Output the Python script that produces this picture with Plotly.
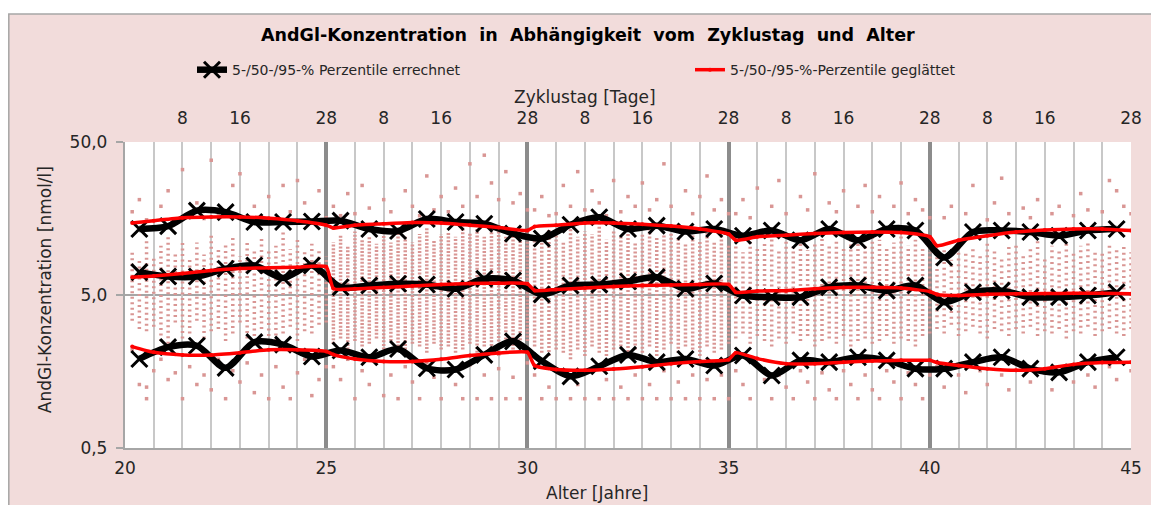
import plotly.graph_objects as go

# ---------------- data ----------------
BLOCK_STARTS = [20, 25, 30, 35, 40]          # age (years) at start of each 28-day block
CYCLE_DAYS = 28
BLACK_DAYS = [2, 6, 10, 14, 18, 22, 26]      # cycle days of the computed percentiles
RED_DAYS = [1, 4, 8, 12, 16, 20, 24, 28]     # cycle days of the smoothed percentiles

# computed percentiles (black), 7 per block
p95_calc = [13.5, 14.1, 17.8, 17.4, 15.0, 15.0, 15.1,
            15.3, 13.5, 13.1, 15.7, 15.0, 14.6, 12.6,
            11.7, 14.4, 16.1, 13.5, 14.2, 13.0, 13.5,
            12.2, 13.2, 11.4, 13.5, 11.4, 13.5, 13.2,
            8.8, 12.9, 13.2, 12.9, 12.2, 13.2, 13.5]
p50_calc = [7.05, 6.6, 6.6, 7.42, 7.79, 6.46, 7.79,
            5.62, 5.77, 5.92, 5.86, 5.49, 6.38, 6.22,
            5.05, 5.77, 5.85, 6.13, 6.54, 5.49, 5.95,
            4.96, 4.84, 4.84, 5.62, 5.77, 5.34, 5.77,
            4.49, 5.21, 5.34, 4.84, 4.84, 4.96, 5.21]
p05_calc = [1.91, 2.28, 2.33, 1.67, 2.46, 2.37, 1.98,
            2.17, 1.96, 2.22, 1.66, 1.63, 2.03, 2.49,
            1.85, 1.47, 1.71, 2.03, 1.82, 1.91, 1.73,
            2.01, 1.49, 1.87, 1.82, 1.96, 1.87, 1.65,
            1.65, 1.82, 1.96, 1.65, 1.56, 1.82, 1.96]

# smoothed percentiles (red), 8 per block
p95_smooth = [14.8, 15.3, 16.0, 16.2, 16.2, 15.9, 15.3, 14.3,
              13.7, 14.3, 14.6, 14.9, 14.8, 14.3, 13.8, 13.2,
              14.0, 14.3, 14.8, 14.8, 14.5, 14.1, 13.5, 12.5,
              11.4, 12.0, 12.3, 12.6, 12.8, 12.9, 12.8, 12.0,
              10.5, 11.4, 12.2, 12.9, 13.3, 13.5, 13.5, 13.2]
p50_smooth = [6.54, 6.66, 6.91, 7.23, 7.45, 7.53, 7.60, 7.65,
              5.51, 5.49, 5.60, 5.73, 5.86, 5.95, 5.97, 5.92,
              5.35, 5.44, 5.55, 5.68, 5.77, 5.81, 5.86, 5.86,
              5.21, 5.31, 5.34, 5.49, 5.60, 5.62, 5.55, 5.27,
              5.04, 4.96, 5.05, 5.09, 5.11, 5.13, 5.13, 5.09]
p05_smooth = [2.30, 2.11, 2.03, 2.03, 2.10, 2.19, 2.19, 2.14,
              2.04, 1.91, 1.84, 1.84, 1.90, 2.01, 2.09, 2.11,
              1.73, 1.63, 1.61, 1.64, 1.70, 1.78, 1.84, 1.89,
              2.10, 1.92, 1.78, 1.78, 1.82, 1.85, 1.87, 1.87,
              1.81, 1.73, 1.65, 1.61, 1.65, 1.76, 1.81, 1.82]

# individual measurements: dense core range per cycle day (days 1..28) and single outliers
hi_20 = [9.8, 8.4, 11.4, 9.0, 10.5, 12.0, 9.5, 11.4, 8.8, 11.0, 9.2, 12.5, 10.0, 10.8,
         12.0, 9.0, 11.0, 9.8, 12.2, 10.0, 10.5, 12.8, 10.0, 11.5, 9.5, 10.8, 9.8, 9.0]
lo_20 = [3.4, 3.0, 2.9, 3.1, 2.5, 2.4, 3.3, 2.6, 2.8, 3.4, 2.6, 2.9, 3.0, 2.5,
         2.8, 3.3, 2.6, 2.7, 3.0, 2.7, 2.5, 2.8, 3.1, 2.5, 2.9, 2.8, 3.2, 3.3]
hi_25 = [11.0, 12.5, 10.5, 13.0, 11.5, 12.0, 10.8, 12.8, 11.0, 13.5, 12.0, 11.0, 12.5, 13.8,
         11.5, 12.5, 13.0, 12.0, 14.0, 12.8, 13.5, 12.0, 14.5, 13.0, 12.0, 13.5, 11.5, 12.5]
lo_25 = [2.4, 2.6, 2.2, 2.5, 2.3, 2.4, 2.6, 2.2, 2.5, 2.3, 2.2, 2.4, 2.3, 2.1,
         2.4, 2.2, 2.3, 2.1, 2.2, 2.4, 2.1, 2.3, 2.2, 2.0, 2.3, 2.2, 2.4, 2.5]
hi_30 = [12.0, 11.0, 13.5, 12.5, 11.0, 14.0, 12.0, 13.0, 12.5, 14.5, 11.5, 13.0, 12.0, 13.5,
         11.0, 12.5, 13.5, 11.8, 12.5, 13.0, 12.0, 11.0, 12.5, 11.5, 13.0, 11.0, 12.0, 10.5]
lo_30 = [2.3, 2.1, 2.0, 2.2, 2.1, 1.9, 2.2, 2.0, 2.3, 2.1, 2.0, 2.2, 2.3, 2.0,
         2.2, 2.1, 2.3, 2.0, 2.2, 2.4, 2.1, 2.3, 2.2, 2.0, 2.3, 2.1, 2.2, 2.4]
hi_35 = [10.5, 9.5, 12.0, 10.0, 11.0, 12.5, 10.0, 11.5, 10.5, 12.0, 9.8, 11.0, 12.5, 10.5,
         11.5, 10.0, 12.0, 11.0, 10.5, 12.0, 11.5, 10.0, 11.0, 12.5, 10.5, 11.5, 10.0, 9.5]
lo_35 = [2.6, 2.8, 2.4, 2.7, 2.5, 2.3, 2.6, 2.4, 2.8, 2.5, 2.7, 2.3, 2.5, 2.6,
         2.4, 2.7, 2.3, 2.5, 2.6, 2.4, 2.5, 2.7, 2.4, 2.6, 2.5, 2.3, 2.7, 2.8]
hi_40 = [9.0, 10.0, 8.5, 11.0, 9.5, 10.5, 9.0, 11.5, 10.0, 9.0, 10.5, 11.0, 9.5, 10.0,
         11.5, 9.0, 10.5, 10.0, 11.0, 9.5, 10.5, 11.5, 10.0, 9.5, 11.0, 10.0, 10.5, 9.5]
lo_40 = [3.0, 2.8, 3.2, 2.7, 2.9, 3.1, 2.8, 2.6, 3.0, 2.9, 2.7, 3.0, 2.8, 3.1,
         2.7, 2.9, 2.8, 3.0, 2.6, 2.9, 2.8, 3.1, 2.7, 2.9, 3.0, 2.8, 2.7, 3.0]

out_20 = [(1, 17.5), (2, 21), (3, 15.5), (5, 19), (6, 24), (8, 33), (10, 20), (11, 15.8), (12, 38),
          (13, 17), (15, 26), (16, 31), (18, 19), (19, 16), (20, 22), (22, 26), (23, 17.5), (24, 28),
          (25, 20), (27, 24), (28, 16),
          (1, 2.2), (2, 1.3), (3, 1.25), (3, 1.05), (4, 1.6), (5, 1.9), (6, 1.4), (7, 1.55), (8, 1.05),
          (9, 1.7), (10, 1.3), (11, 1.5), (12, 1.2), (13, 1.9), (14, 1.05), (15, 1.6), (16, 1.35),
          (17, 1.8), (18, 1.15), (19, 1.5), (20, 1.05), (21, 1.7), (22, 1.25), (23, 1.05), (24, 1.55),
          (25, 1.9), (26, 1.1), (27, 1.4), (28, 1.7)]
out_25 = [(1, 19), (2, 16.5), (3, 23), (4, 17), (5, 26), (6, 18.5), (8, 21), (9, 17.5), (11, 24),
          (12, 19), (14, 30), (15, 18), (16, 22), (18, 25), (19, 19), (20, 36), (21, 22), (22, 41),
          (23, 27), (24, 21), (25, 32), (26, 20), (27, 23), (28, 18), (17, 17.5), (13, 16.5),
          (1, 1.7), (2, 1.4), (3, 1.9), (4, 1.05), (5, 1.6), (6, 1.3), (7, 1.8), (8, 1.1), (9, 1.5),
          (10, 1.05), (11, 1.7), (12, 1.35), (13, 1.05), (14, 1.8), (15, 1.45), (16, 1.05), (17, 1.6),
          (18, 1.3), (19, 1.05), (20, 1.75), (21, 1.05), (22, 1.5), (23, 1.05), (24, 1.65), (25, 1.05),
          (26, 1.45), (27, 1.05), (28, 1.8)]
out_30 = [(1, 18), (2, 22), (4, 17), (5, 26), (6, 19), (7, 32), (8, 18), (9, 24), (10, 20), (12, 28),
          (13, 17.5), (14, 22), (15, 19), (16, 27), (17, 18), (18, 21), (19, 36), (20, 19), (22, 24),
          (23, 17), (24, 22), (25, 30), (26, 18), (27, 21), (28, 17), (3, 16.5), (11, 16.5),
          (1, 1.5), (2, 1.05), (3, 1.25), (4, 1.05), (5, 1.55), (6, 1.05), (7, 1.3), (8, 1.05), (9, 1.6),
          (10, 1.05), (11, 1.4), (12, 1.05), (13, 1.25), (14, 1.05), (15, 1.5), (16, 1.05), (17, 1.3),
          (18, 1.05), (19, 1.6), (20, 1.05), (21, 1.35), (22, 1.05), (23, 1.5), (24, 1.05), (25, 1.4),
          (26, 1.05), (27, 1.5), (28, 1.05)]
out_35 = [(1, 17), (2, 21), (3, 16), (4, 25), (6, 19), (7, 28), (8, 17), (10, 22), (11, 18), (12, 31),
          (14, 20), (15, 17.5), (16, 24), (18, 19), (19, 26), (20, 17.5), (21, 22), (23, 19), (24, 27),
          (25, 17), (26, 21), (27, 18), (28, 16),
          (1, 1.6), (2, 1.3), (3, 1.05), (4, 1.7), (5, 1.4), (6, 1.05), (7, 1.5), (8, 1.25), (9, 1.05),
          (10, 1.6), (11, 1.35), (12, 1.05), (13, 1.55), (14, 1.2), (15, 1.05), (16, 1.6), (17, 1.3),
          (18, 1.05), (19, 1.5), (20, 1.2), (21, 1.05), (22, 1.6), (23, 1.35), (24, 1.05), (25, 1.55),
          (26, 1.3), (27, 1.05), (28, 1.5)]
out_40 = [(2, 16), (3, 19), (5, 17), (6, 26), (8, 15.5), (9, 20), (10, 29), (11, 17), (13, 18.5),
          (14, 16), (15, 21), (17, 17), (18, 19), (20, 16.5), (21, 23), (22, 18), (24, 17.5), (25, 28),
          (26, 24), (27, 19), (28, 17),
          (1, 1.7), (2, 1.25), (4, 1.5), (5, 1.15), (7, 1.6), (8, 1.3), (10, 1.5), (11, 1.2), (13, 1.7),
          (14, 1.35), (16, 1.55), (17, 1.2), (19, 1.6), (20, 1.35), (22, 1.5), (23, 1.25), (25, 1.7),
          (26, 1.4), (28, 1.6)]

top_tick_days = [8, 16, 28]
y_tickvals = [0.5, 5, 50]
y_ticktext = ["0,5\u00a0", "5,0\u00a0", "50,0\u00a0"]
x_tickvals = [20, 25, 30, 35, 40, 45]

# ---------------- helpers ----------------
def age(block_start, day):
    return block_start + 5.0 * day / CYCLE_DAYS

black_x = [age(b, d) for b in BLOCK_STARTS for d in BLACK_DAYS]
red_x = [age(b, d) for b in BLOCK_STARTS for d in RED_DAYS]

PINK = "#D99694"
BG = "#F2DCDB"
TXT = "#262626"
FONT = "DejaVu Sans, Arial, sans-serif"

fig = go.Figure()

# dense dot columns (the density of dots differs between the age blocks)
block_dash = ["2px,3.5px", "2px,1.6px", "2px,2px", "2px,3px", "2px,3.8px"]
for b, hi, lo, dash in zip(BLOCK_STARTS, [hi_20, hi_25, hi_30, hi_35, hi_40],
                           [lo_20, lo_25, lo_30, lo_35, lo_40], block_dash):
    core_x, core_y = [], []
    for d, (h, l) in enumerate(zip(hi, lo), start=1):
        core_x += [age(b, d), age(b, d), None]
        core_y += [l, h, None]
    fig.add_trace(go.Scatter(x=core_x, y=core_y, mode="lines", showlegend=False, hoverinfo="skip",
                             line=dict(color=PINK, width=3.5, dash=dash)))

ox, oy = [], []
for b, outs in zip(BLOCK_STARTS, [out_20, out_25, out_30, out_35, out_40]):
    for d, v in outs:
        ox.append(age(b, d))
        oy.append(v)
fig.add_trace(go.Scatter(x=ox, y=oy, mode="markers", showlegend=False, hoverinfo="skip",
                         marker=dict(symbol="square", size=3.5, color=PINK, line=dict(width=0))))

# computed percentiles (black)
for i, series in enumerate([p95_calc, p50_calc, p05_calc]):
    fig.add_trace(go.Scatter(
        x=black_x, y=series, mode="lines+markers", legend="legend",
        name="5-/50-/95-% Perzentile errechnet", legendgroup="calc", showlegend=(i == 0),
        line=dict(color="black", width=6.5, shape="spline", smoothing=0.8),
        marker=dict(symbol="x-thin", size=16, color="black", line=dict(color="black", width=3))))

# smoothed percentiles (red)
for i, series in enumerate([p95_smooth, p50_smooth, p05_smooth]):
    fig.add_trace(go.Scatter(
        x=red_x, y=series, mode="lines+markers", legend="legend2",
        name="5-/50-/95-%-Perzentile geglättet", legendgroup="smooth", showlegend=(i == 0),
        line=dict(color="#FF0000", width=3.5, shape="spline", smoothing=0.5),
        marker=dict(symbol="circle", size=4, color="#FF0000")))

# empty traces to attach the helper axes
for ax in ["x2", "x3", "x4"]:
    fig.add_trace(go.Scatter(x=[], y=[], xaxis=ax, showlegend=False, hoverinfo="skip"))

top_vals = [28 * k + d for k in range(5) for d in top_tick_days]
top_text = [str(d) for k in range(5) for d in top_tick_days]
light_grid = [d for d in range(4, 5 * CYCLE_DAYS, 4) if d % CYCLE_DAYS != 0]

legend_common = dict(orientation="h", xanchor="left", y=1.235, yanchor="middle",
                     bgcolor="rgba(0,0,0,0)", font=dict(size=14, color=TXT, family=FONT))

fig.update_layout(
    width=1159, height=505,
    margin=dict(l=117, r=36, t=134, b=65, autoexpand=False),
    paper_bgcolor=BG, plot_bgcolor="white",
    font=dict(family=FONT, size=17, color=TXT),
    showlegend=True,
    legend=dict(x=0.0666, **legend_common),
    legend2=dict(x=0.5616, **legend_common),
    xaxis=dict(range=[20, 45], tickvals=x_tickvals, showgrid=False, zeroline=False,
               showline=True, linecolor="#A6A6A6", linewidth=1.5,
               ticks="outside", ticklen=4, tickcolor="rgba(0,0,0,0)",
               tickfont=dict(size=17, color=TXT)),
    xaxis2=dict(overlaying="x", side="top", anchor="y", range=[0, 140], tickvals=top_vals,
                ticktext=top_text, showgrid=False, zeroline=False, showline=False,
                ticks="outside", ticklen=10, tickcolor="rgba(0,0,0,0)",
                tickfont=dict(size=17, color=TXT)),
    xaxis3=dict(overlaying="x", anchor="y", range=[0, 140], tickvals=light_grid,
                showticklabels=False, showgrid=True, gridcolor="#C8C8C8", gridwidth=1.5,
                zeroline=False, showline=False, ticks=""),
    xaxis4=dict(overlaying="x", anchor="y", range=[20, 45], tickvals=[25, 30, 35, 40, 45],
                showticklabels=False, showgrid=True, gridcolor="#8C8C8C", gridwidth=3.5,
                zeroline=False, showline=False, ticks=""),
    yaxis=dict(type="log", range=[-0.30103, 1.69897], tickvals=y_tickvals, ticktext=y_ticktext,
               showgrid=True, gridcolor="#A6A6A6", gridwidth=1.5, zeroline=False,
               showline=True, linecolor="#A6A6A6", linewidth=1.5,
               ticks="outside", ticklen=7, tickcolor="#A6A6A6", tickwidth=1.5,
               tickfont=dict(size=17, color=TXT)),
    annotations=[
        dict(text="<b>AndGl-Konzentration  in  Abhängigkeit  vom  Zyklustag  und  Alter</b>",
             xref="paper", yref="paper", x=0.46, y=1.35, xanchor="center", yanchor="middle",
             showarrow=False, font=dict(size=17.5, color="black")),
        dict(text="Zyklustag [Tage]", xref="paper", yref="paper", x=0.457, y=1.147,
             xanchor="center", yanchor="middle", showarrow=False, font=dict(size=17, color=TXT)),
        dict(text="Alter [Jahre]", xref="paper", yref="paper", x=0.469, y=-0.147,
             xanchor="center", yanchor="middle", showarrow=False, font=dict(size=17, color=TXT)),
        dict(text="AndGl-Konzentration [nmol/l]", xref="paper", yref="paper", x=-0.0795, y=0.516,
             xanchor="center", yanchor="middle", textangle=-90, showarrow=False,
             font=dict(size=17, color=TXT)),
    ],
    shapes=[
        dict(type="rect", xref="paper", yref="paper", x0=-0.13, x1=1.05, y0=1.418, y1=1.47,
             fillcolor="white", line=dict(width=0), layer="above"),
        dict(type="rect", xref="paper", yref="paper", x0=-0.1155, x1=1.05, y0=-0.3, y1=1.418,
             fillcolor="rgba(0,0,0,0)", line=dict(color="#A6A6A6", width=1.5), layer="above"),
    ],
)

fig.write_html("out.html")
